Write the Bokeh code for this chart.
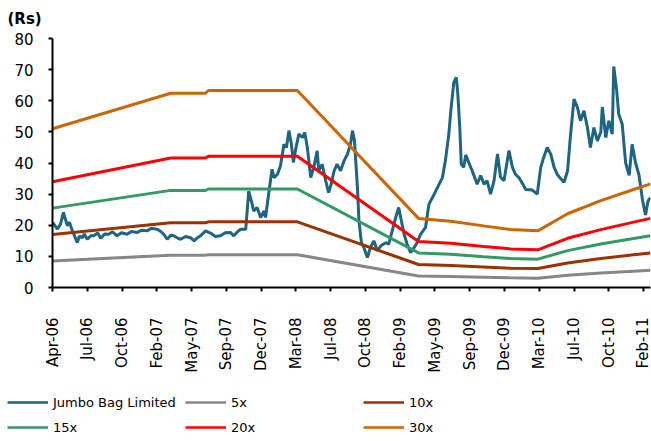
import math
from bokeh.plotting import figure
from bokeh.layouts import column
from bokeh.models import Range1d, FixedTicker, Legend, LegendItem, Label
from bokeh.embed import file_html
from bokeh.resources import INLINE

# ---- data -------------------------------------------------------------
# x axis: trading-session index (category axis, label every 70 sessions)
tick_sessions = [0, 70, 140, 210, 280, 350, 420, 490, 560, 630, 700, 770,
                 840, 910, 980, 1050, 1120, 1190]
tick_labels = ["Apr-06", "Jul-06", "Oct-06", "Feb-07", "May-07", "Sep-07",
               "Dec-07", "Mar-08", "Jul-08", "Oct-08", "Feb-09", "May-09",
               "Sep-09", "Dec-09", "Mar-10", "Jul-10", "Oct-10", "Feb-11"]

# Jumbo Bag Limited share price (Rs)
price_session = [
    0, 10, 16, 22, 30, 34, 40, 50, 54, 60, 64, 70, 77, 83, 91, 97, 105, 113,
    121, 130, 139, 150, 159, 171, 179, 191, 199, 211, 218, 224, 231, 238, 244,
    252, 258, 268, 278, 285, 292, 298, 308, 318, 328, 338, 348, 358, 365, 373,
    379, 389, 392, 395, 402, 405, 412, 419, 426, 429, 436, 442, 446, 453, 459,
    466, 471, 476, 481, 485, 489, 496, 503, 508, 513, 520, 526, 533, 536, 543,
    550, 556, 561, 567, 573, 580, 587, 594, 600, 604, 608, 614, 617, 622, 627,
    634, 640, 647, 654, 661, 671, 677, 684, 691, 697, 701, 708, 714, 721, 728,
    734, 741, 751, 758, 765, 775, 785, 791, 798, 802, 808, 813, 816, 820, 823,
    828, 832, 838, 845, 855, 862, 869, 875, 882, 889, 896, 902, 909, 919, 926,
    932, 939, 943, 953, 966, 976, 983, 989, 996, 1003, 1010, 1016, 1023, 1030,
    1037, 1043, 1050, 1057, 1063, 1070, 1077, 1083, 1090, 1097, 1104, 1107,
    1114, 1120, 1127, 1130, 1136, 1140, 1147, 1154, 1161, 1167, 1174, 1181,
    1188, 1194, 1199, 1204]
price_value = [
    20.9, 18.8, 20.3, 24.1, 19.8, 21.0, 18.2, 14.4, 16.5, 16.0, 17.2, 15.5,
    16.6, 16.6, 17.5, 15.8, 17.2, 17.1, 17.9, 16.6, 17.6, 17.1, 18.0, 17.7,
    18.4, 18.2, 19.0, 18.7, 18.0, 17.1, 15.5, 16.8, 16.6, 15.9, 15.5, 16.4,
    16.0, 15.0, 16.0, 16.6, 18.2, 17.5, 16.4, 16.6, 17.6, 17.7, 16.6, 18.0,
    18.7, 18.7, 24.6, 31.0, 26.8, 24.6, 25.7, 22.5, 24.6, 22.5, 31.0, 38.0,
    35.3, 36.4, 39.1, 46.0, 45.0, 50.4, 46.0, 40.2, 43.9, 49.3, 48.2, 49.8,
    45.0, 35.3, 38.6, 43.9, 37.5, 39.6, 34.3, 30.5, 33.2, 37.5, 39.6, 37.5,
    40.7, 42.9, 46.0, 50.4, 47.1, 32.1, 21.4, 14.4, 12.8, 9.6, 12.8, 15.0,
    11.8, 13.4, 14.4, 13.9, 18.2, 22.5, 25.7, 22.5, 17.1, 13.9, 11.2, 12.8,
    14.4, 17.1, 19.3, 26.8, 28.9, 32.1, 35.3, 40.7, 49.3, 56.8, 65.9, 67.5,
    62.2, 51.4, 39.6, 38.6, 42.6, 40.2, 37.5, 33.2, 36.0, 33.2, 34.3, 30.0,
    34.3, 42.9, 35.5, 34.3, 44.0, 38.6, 36.4, 35.3, 34.3, 31.5, 31.3, 30.0,
    38.6, 41.8, 45.0, 42.9, 38.6, 36.4, 35.0, 33.8, 37.5, 49.0, 60.5, 57.8,
    53.6, 56.8, 51.4, 45.0, 51.4, 47.1, 50.0, 58.0, 48.2, 53.6, 49.3, 71.0,
    63.2, 55.7, 52.5, 40.0, 36.0, 46.0, 40.0, 36.0, 28.0, 23.3, 27.8, 28.9]

# P/E band lines (Rs)
band_session = [0, 238, 308, 314, 493, 737, 802, 868, 922, 977, 1037, 1104,
                1170, 1204]
band_5x = [8.5, 10.4, 10.4, 10.55, 10.55, 3.7, 3.55, 3.3, 3.1, 3.0, 3.95,
           4.65, 5.25, 5.55]
band_10x = [17.0, 20.8, 20.8, 21.1, 21.1, 7.4, 7.1, 6.6, 6.2, 6.1, 7.9, 9.3,
            10.5, 11.1]
band_15x = [25.5, 31.2, 31.2, 31.65, 31.65, 11.1, 10.65, 9.9, 9.3, 9.1,
            11.85, 13.95, 15.75, 16.65]
band_20x = [34.0, 41.6, 41.6, 42.2, 42.2, 14.8, 14.2, 13.2, 12.4, 12.1, 15.8,
            18.6, 21.0, 22.2]
band_30x = [51.0, 62.4, 62.4, 63.3, 63.3, 22.2, 21.3, 19.8, 18.6, 18.2, 23.7,
            27.9, 31.5, 33.3]

y_ticks = [0, 10, 20, 30, 40, 50, 60, 70, 80]

series_names = ["Jumbo Bag Limited", "5x", "10x", "15x", "20x", "30x"]
series_colors = ["#1D6580", "#878787", "#993300", "#339966", "#FF0000", "#CC6600"]

FONT = "DejaVu Sans"


def strip(height):
    f = figure(width=651, height=height, output_backend="svg",
               toolbar_location=None, x_axis_location=None,
               y_axis_location=None, x_range=Range1d(0, 651),
               y_range=Range1d(0, height), min_border_left=0,
               min_border_right=0, min_border_top=0, min_border_bottom=0)
    f.frame_align = False
    f.xgrid.visible = False
    f.ygrid.visible = False
    f.outline_line_color = None
    f.background_fill_color = "white"
    f.border_fill_color = "white"
    return f


# ---- unit label strip ---------------------------------------------------
top = strip(28)
top.add_layout(Label(x=7, y=10, x_units="screen", y_units="screen",
                     text="(Rs)", text_font=FONT, text_font_style="bold",
                     text_font_size="15px", text_color="black",
                     text_baseline="alphabetic"))

# ---- main chart -------------------------------------------------------
p = figure(width=651, height=348, output_backend="svg", toolbar_location=None,
           x_range=Range1d(0, 1204), y_range=Range1d(0, 80),
           min_border_left=52, min_border_right=1, min_border_top=10,
           min_border_bottom=89)
p.frame_align = False
p.outline_line_color = None
p.background_fill_color = "white"
p.border_fill_color = "white"
p.xgrid.visible = False
p.ygrid.visible = False

for ax in (p.xaxis[0], p.yaxis[0]):
    ax.axis_line_color = "black"
    ax.axis_line_width = 2
    ax.major_tick_line_color = "black"
    ax.major_tick_line_width = 2
    ax.major_tick_out = 4
    ax.major_tick_in = 0
    ax.minor_tick_line_color = None
    ax.major_label_text_font = FONT
    ax.major_label_text_font_size = "15px"
    ax.major_label_text_color = "#000000"

p.yaxis[0].ticker = FixedTicker(ticks=y_ticks)
p.yaxis[0].major_label_standoff = 15

p.xaxis[0].ticker = FixedTicker(ticks=tick_sessions)
p.xaxis[0].major_label_overrides = {s: l for s, l in zip(tick_sessions, tick_labels)}
p.xaxis[0].major_label_orientation = math.pi / 2
p.xaxis[0].major_label_standoff = 26

p.line(price_session, price_value, line_color=series_colors[0], line_width=3)
for vals, col in zip([band_5x, band_10x, band_15x, band_20x, band_30x],
                     series_colors[1:]):
    p.line(band_session, vals, line_color=col, line_width=3)

# ---- legend strip -----------------------------------------------------
q = strip(65)
nan = float("nan")
proxies = {}
for name, col in zip(series_names, series_colors):
    proxies[name] = q.line(x=[0, 1], y=[nan, nan], line_color=col, line_width=2.5)

legend_columns = [["Jumbo Bag Limited", "15x"], ["5x", "20x"], ["10x", "30x"]]
legend_x = [7, 185, 363]
for cx, names in zip(legend_x, legend_columns):
    leg = Legend(items=[LegendItem(label=n, renderers=[proxies[n]]) for n in names],
                 location=(cx, 6), orientation="vertical")
    leg.border_line_color = None
    leg.background_fill_alpha = 0
    leg.padding = 0
    leg.margin = 0
    leg.spacing = 9
    leg.glyph_height = 16
    leg.glyph_width = 41
    leg.label_height = 16
    leg.label_standoff = 5
    leg.label_text_font = FONT
    leg.label_text_font_size = "13px"
    leg.label_text_color = "black"
    q.add_layout(leg)

open("out.html", "w").write(file_html(column(top, p, q, spacing=0), INLINE))
